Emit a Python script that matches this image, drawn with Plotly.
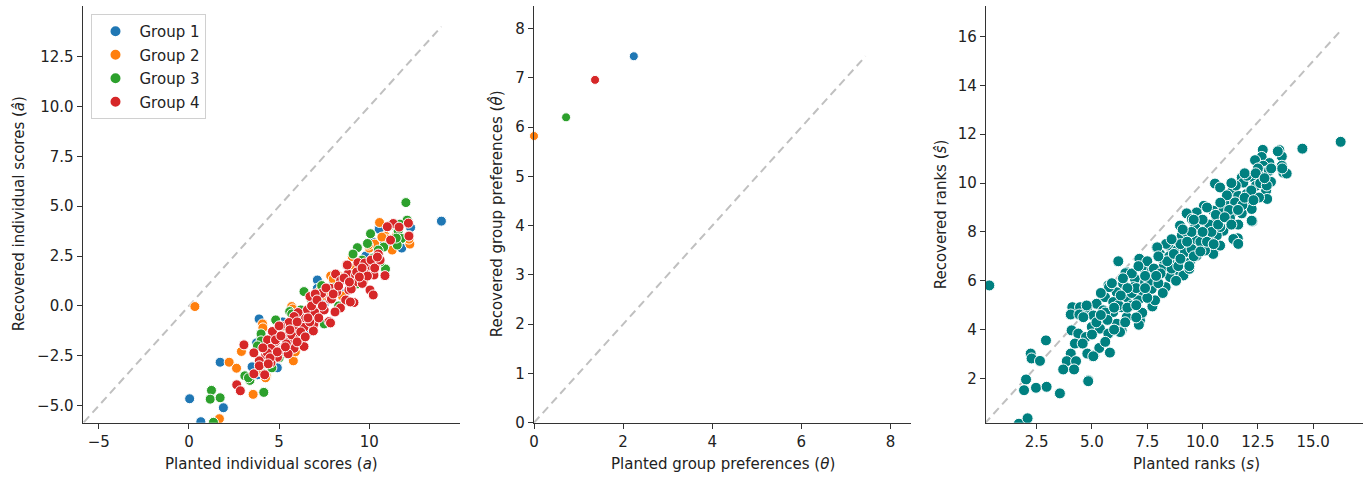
import plotly.graph_objects as go

# ---------------- Panel 1: individual scores, by group ----------------
g1_x = [0.04, 0.66, 1.91, 1.73, 3.89, 14.0, 7.12, 7.12, 10.53, 12.29, 10.55, 3.7, 3.8, 4.8, 3.75, 4.0,
        5.6, 6.2, 8.0, 9.4, 10.8, 11.8, 6.9, 5.2, 8.6, 9.8, 4.4, 6.6, 7.5, 11.2, 3.5, 4.9, 9.0, 10.2]
g1_y = [-4.65, -5.8, -5.1, -2.82, -0.65, 4.25, 1.3, 0.88, 3.88, 3.93, 3.85, -3.15, -3.45, -2.95, -1.85, -3.3,
        -2.3, -0.4, 1.1, 1.9, 3.3, 2.9, -0.2, -0.8, 0.6, 2.5, -2.0, -1.3, 0.1, 3.0, -3.05, -3.1, 1.4, 3.2]

g2_x = [0.33, 1.69, 2.23, 2.64, 2.91, 3.56, 5.79, 4.08, 5.7, 7.86, 9.06, 10.57, 12.25, 11.27, 12.2, 11.5,
        4.3, 3.9, 5.3, 6.0, 7.0, 8.0, 9.0, 10.0, 10.9, 4.6, 6.5, 8.5, 9.7, 5.9, 7.6, 10.3, 11.0, 7.3, 4.1, 8.3,
        4.25, 5.75, 9.95, 10.7]
g2_y = [-0.03, -5.65, -2.82, -3.12, -2.28, -4.43, -2.75, -0.9, -0.03, 1.5, 2.47, 4.18, 3.1, 2.8, 3.35, 3.5,
        -3.55, -3.25, -1.3, -0.95, -0.1, 1.35, 1.9, 2.9, 3.5, -2.2, -0.5, 0.5, 1.3, -2.3, 0.5, 3.1, 3.35, 0.8, -1.1, 1.5,
        -3.6, -0.15, 3.05, 3.45]

g3_x = [1.25, 1.18, 1.73, 1.36, 4.15, 3.10, 3.38, 4.81, 6.38, 5.59, 4.81, 7.36, 7.82, 12.03, 12.1, 11.6,
        11.79, 11.55, 10.07, 9.34, 9.9, 4.0, 4.0, 4.35, 5.0, 5.4, 6.8, 7.5, 8.3, 8.9, 9.6, 10.2, 10.8, 10.9,
        11.5, 6.0, 5.3, 7.0, 8.0, 9.3, 10.5, 3.8, 4.6, 6.2, 11.2, 11.7, 3.3, 4.4, 5.7, 9.1, 10.6]
g3_y = [-4.23, -4.67, -4.6, -5.83, -4.33, -3.5, -3.73, -0.73, 0.72, -0.28, -0.7, 1.02, -0.83, 5.18, 4.3, 3.75,
        3.38, 3.05, 3.62, 2.92, 3.13, -1.4, -1.75, -2.9, -2.6, -1.0, 0.3, -0.9, 0.0, 1.6, 2.3, 2.4, 2.95, 1.85,
        3.4, -1.8, -2.3, -0.05, 0.9, 1.1, 2.8, -2.0, -3.1, -0.2, 4.05, 4.1, -3.6, -2.7, -0.4, 2.6, 2.2]

g4_x = [8.74, 9.37, 9.89, 10.35, 8.13, 8.82, 9.24, 9.85, 8.41, 9.11, 9.61, 7.86, 7.36, 8.87, 10.04, 6.71,
        7.82, 8.69, 9.15, 7.21, 6.57, 6.05, 6.99, 7.77, 6.47, 5.83, 5.55, 5.09, 6.38, 6.93, 5.83, 4.63, 5.27,
        5.92, 6.38, 4.36, 4.81, 5.55, 4.54, 5.18, 5.83, 4.26, 4.91, 11.33, 12.17, 11.0, 12.21, 11.18, 10.5,
        8.78, 10.87, 10.26, 10.22, 10.5, 10.4, 10.1, 9.75, 9.0, 7.85, 6.9, 5.7, 5.0, 4.8, 4.35, 3.9, 3.6, 3.05,
        3.6, 4.2, 2.65, 2.85, 4.55, 5.2, 6.15, 6.7, 7.0, 7.9, 8.4, 8.95, 7.5, 8.2, 11.65, 12.2,
        5.4, 5.6, 6.0, 6.2, 6.6, 6.8, 7.1, 7.4, 7.6, 8.0, 8.3, 8.6, 8.9, 9.3, 9.6, 9.9, 10.1, 10.3, 10.6,
        4.5, 4.9, 5.1, 5.5, 6.0, 4.1, 3.9, 4.4, 7.2, 8.1, 10.45, 9.45, 5.35, 6.45]
g4_y = [2.05, 2.17, 2.1, 2.05, 1.6, 1.6, 1.55, 1.6, 1.27, 1.13, 1.13, 0.88, 0.63, 0.8, 0.8, 0.47,
        0.33, 0.3, 0.17, 0.05, -0.2, -0.33, -0.33, -0.78, -0.62, -0.53, -0.83, -1.0, -1.07, -0.9, -1.2, -1.28, -1.53,
        -1.45, -2.03, -1.7, -1.78, -1.78, -2.12, -2.17, -2.12, -2.45, -2.57, 4.13, 4.15, 3.97, 3.52, 3.3, 2.58,
        2.05, 1.52, 1.55, 0.55, 2.6, 2.35, 2.0, 2.15, 0.85, -0.85, -1.25, -1.45, -1.0, -1.7, -2.35, -2.75, -2.35, -1.95,
        -3.4, -3.45, -3.95, -4.25, -2.85, -2.2, -1.6, -0.8, 0.6, 0.35, -0.1, 0.2, -0.2, 0.7, 3.95, 3.5,
        -1.9, -1.2, -0.8, -1.3, -0.6, 0.0, 0.3, 0.0, 0.9, 0.6, 1.0, 1.4, 1.2, 1.7, 1.9, 1.5, 2.3, 1.9, 2.3,
        -2.6, -2.3, -1.5, -2.4, -1.8, -2.1, -3.0, -2.9, -0.6, -0.3, 2.45, 1.45, -2.05, -1.55]

# ---------------- Panel 2: group preferences ----------------
theta_planted = [2.24, 0.0, 0.72, 1.37]
theta_recovered = [7.44, 5.82, 6.2, 6.96]

# ---------------- Panel 3: ranks ----------------
s_planted = [4.11, 4.46, 4.79, 4.04, 4.43, 5.06, 2.92, 2.23, 2.27, 2.65, 4.04, 3.86, 4.28, 3.70, 4.19, 4.08,
             4.38, 4.73, 4.23, 4.58, 4.79, 5.1, 5.33, 4.83, 2.02, 1.93, 2.47, 2.95, 3.55, 1.7, 2.09, 0.36,
             6.19, 8.98, 9.28, 9.66, 10.03, 9.06, 9.88, 7.92, 8.45, 8.83, 9.28, 9.73, 8.07, 7.17, 7.62, 8.22,
             8.6, 8.98, 9.43, 8.98, 8.53, 7.85, 7.25, 6.57, 6.94, 7.4, 6.41, 6.87, 5.74, 6.12, 7.32, 7.7, 5.59,
             6.57, 7.09, 5.96, 5.21, 4.76, 6.34, 6.79, 5.51, 5.96, 7.25, 5.06, 4.61, 5.66, 6.57, 6.12, 7.17,
             4.99, 5.36, 6.34, 5.74,
             4.83, 3.55, 5.81, 5.06, 6.27, 7.27, 7.12, 7.73, 7.85, 7.14, 6.51, 5.77, 8.35, 7.95, 9.13, 9.4,
             8.33, 11.59, 12.25, 9.73, 10.52,
             16.24, 14.51, 13.47, 13.58, 12.72, 12.67, 12.37, 13.02, 12.74, 13.58, 13.65, 13.8, 12.87, 12.6,
             12.22, 11.77, 13.09, 10.56, 10.79, 11.84, 12.41, 12.87, 12.92, 12.55, 11.32, 11.61, 11.99, 11.92,
             11.01, 11.47, 12.22, 10.06, 9.73, 9.28, 10.48, 10.94, 11.39, 11.77, 12.22, 9.51, 9.96, 10.64,
             11.24, 11.61, 9.66, 10.19, 10.94, 9.28, 11.39, 11.61, 10.64, 10.26, 9.73, 9.2, 9.81, 10.48, 9.2,
             10.11, 10.79,
             7.6, 8.0, 8.6, 8.2, 7.4, 8.9, 9.5, 9.9, 10.3, 10.8, 11.2, 11.8, 12.2, 12.6, 6.8, 6.2, 5.6, 5.2,
             6.6, 7.0, 8.5, 9.0, 9.5, 10.0, 10.6, 11.1, 11.5, 12.0, 12.5, 13.0, 12.9,
             7.5, 7.8, 8.1, 8.4, 8.7, 9.0, 9.3, 9.6, 9.9, 10.2, 10.4, 10.7, 11.0, 11.3, 11.6, 11.9, 12.3,
             10.0, 10.5, 9.4, 8.8, 8.2, 7.5, 7.0, 6.6, 6.3, 6.0, 5.7, 5.4, 5.0, 5.6, 6.0, 6.5, 7.0, 7.4, 7.9,
             8.0, 8.6, 9.1, 9.6, 10.2, 10.8, 11.3, 11.9, 12.4, 12.8, 13.1, 13.4, 13.6, 6.8, 7.1, 6.4, 5.9, 5.4]
s_recovered = [4.92, 4.92, 4.9, 4.62, 4.62, 4.58, 3.56, 3.02, 2.82, 2.72, 3.02, 2.71, 2.71, 2.37, 2.37, 3.97,
               3.84, 3.7, 3.43, 3.43, 3.02, 2.95, 3.25, 1.93, 1.96, 1.52, 1.62, 1.66, 1.41, 0.15, 0.37, 5.81,
               6.8, 8.26, 7.98, 8.26, 8.12, 7.85, 7.78, 7.37, 7.44, 7.24, 7.17, 7.03, 7.1, 6.9, 6.56, 6.56,
               6.83, 6.83, 6.76, 6.22, 6.15, 6.22, 6.56, 6.35, 6.08, 5.94, 5.88, 5.74, 5.81, 5.53, 5.53, 5.67, 5.33,
               5.33, 5.2, 5.13, 5.06, 4.99, 4.92, 4.99, 4.79, 4.72, 4.72, 4.58, 4.51, 4.38, 4.51, 4.24, 4.38,
               4.11, 4.04, 3.97, 3.84,
               1.89, 1.39, 3.06, 2.91, 3.9, 4.69, 4.2, 4.95, 5.2, 6.9, 6.31, 5.74, 7.51, 7.37, 6.22, 6.49,
               5.74, 7.74, 8.43, 8.57, 7.13,
               11.69, 11.41, 11.35, 11.09, 11.36, 11.07, 10.94, 10.82, 10.71, 10.71, 10.43, 10.39, 10.47, 10.3,
               10.26, 10.23, 10.05, 9.98, 9.82, 10.02, 9.89, 9.69, 9.35, 9.41, 9.64, 9.48, 9.55, 9.21,
               9.21, 9.21, 8.94, 9.07, 8.8, 8.76, 8.87, 8.87, 8.84, 8.76, 8.46, 8.53, 8.49, 8.46,
               8.57, 8.3, 8.19, 8.12, 8.05, 7.98, 7.71, 7.51, 7.85, 7.78, 7.64, 7.51, 7.31, 7.1, 7.17,
               7.24, 7.44,
               6.0, 5.9, 6.5, 6.9, 6.2, 6.6, 7.3, 7.6, 8.3, 8.2, 8.9, 9.1, 9.7, 10.0, 5.5, 5.0, 4.7, 4.3,
               4.9, 5.7, 7.0, 7.5, 8.0, 8.5, 8.7, 9.5, 9.9, 10.3, 10.6, 10.5, 9.9,
               6.8, 6.5, 6.3, 6.8, 7.1, 6.9, 7.6, 7.0, 7.2, 7.6, 8.0, 8.3, 8.6, 8.3, 8.9, 9.4, 9.3,
               8.0, 7.5, 6.6, 6.0, 5.5, 5.3, 5.0, 5.7, 5.4, 4.9, 4.4, 4.6, 3.8, 3.5, 4.0, 4.3, 4.5, 5.7, 6.2,
               7.0, 7.7, 8.1, 8.5, 9.0, 9.2, 10.0, 10.4, 10.4, 10.2, 10.6, 11.3, 10.6, 6.3, 6.6, 6.1, 5.9, 5.5]

group_names = ["Group 1", "Group 2", "Group 3", "Group 4"]
group_colors = ["#1f77b4", "#ff7f0e", "#2ca02c", "#d62728"]
rank_color = "#008080"
diag_color = "#c0c0c0"

FONT = "DejaVu Sans"
TXT = "#222222"
FS = 15

fig = go.Figure()

# Panel 1 diagonal (from min to max of all values)
all1 = g1_x + g1_y + g2_x + g2_y + g3_x + g3_y + g4_x + g4_y
lo1, hi1 = min(all1), max(all1)
fig.add_trace(go.Scatter(x=[lo1, hi1], y=[lo1, hi1], mode="lines", xaxis="x", yaxis="y",
                         line=dict(color=diag_color, width=2, dash="8px,5px"), showlegend=False,
                         hoverinfo="skip"))
groups = [(g1_x, g1_y), (g2_x, g2_y), (g3_x, g3_y), (g4_x, g4_y)]
for i, (gx, gy) in enumerate(groups):
    fig.add_trace(go.Scatter(x=gx, y=gy, mode="markers", name=group_names[i], xaxis="x", yaxis="y",
                             legendgroup=group_names[i],
                             marker=dict(color=group_colors[i], size=10,
                                         line=dict(color="white", width=1))))

# Panel 2
all2 = theta_planted + theta_recovered
lo2, hi2 = min(all2), max(all2)
fig.add_trace(go.Scatter(x=[lo2, hi2], y=[lo2, hi2], mode="lines", xaxis="x2", yaxis="y2",
                         line=dict(color=diag_color, width=2, dash="8px,5px"), showlegend=False,
                         hoverinfo="skip"))
fig.add_trace(go.Scatter(x=theta_planted, y=theta_recovered, mode="markers", xaxis="x2", yaxis="y2",
                         showlegend=False, cliponaxis=False,
                         marker=dict(color=group_colors, size=9, line=dict(color="white", width=1))))

# Panel 3
all3 = s_planted + s_recovered
lo3, hi3 = min(all3), max(all3)
fig.add_trace(go.Scatter(x=[lo3, hi3], y=[lo3, hi3], mode="lines", xaxis="x3", yaxis="y3",
                         line=dict(color=diag_color, width=2, dash="8px,5px"), showlegend=False,
                         hoverinfo="skip"))
fig.add_trace(go.Scatter(x=s_planted, y=s_recovered, mode="markers", xaxis="x3", yaxis="y3",
                         showlegend=False,
                         marker=dict(color=rank_color, size=11, line=dict(color="white", width=1))))

W, H = 1372, 479
ydom = [(479 - 422.7) / H, (479 - 6) / H]


def ax(domain, rng, tickvals, ticktext, anchor):
    return dict(domain=domain, range=rng, tickvals=tickvals, ticktext=ticktext, anchor=anchor,
                showline=True, linecolor="#333333", linewidth=1.3, ticks="outside", ticklen=5,
                tickwidth=1.3, tickcolor="#333333", showgrid=False, zeroline=False, automargin=False,
                tickfont=dict(family=FONT, size=FS, color=TXT), fixedrange=True)


x1_ticks = [-5, 0, 5, 10]
x1_text = ["\u22125", "0", "5", "10"]
y1_ticks = [-5.0, -2.5, 0.0, 2.5, 5.0, 7.5, 10.0, 12.5]
y1_text = ["\u22125.0", "\u22122.5", "0.0", "2.5", "5.0", "7.5", "10.0", "12.5"]
x2_ticks = [0, 2, 4, 6, 8]
y2_ticks = [0, 1, 2, 3, 4, 5, 6, 7, 8]
x3_ticks = [2.5, 5.0, 7.5, 10.0, 12.5, 15.0]
x3_text = ["2.5", "5.0", "7.5", "10.0", "12.5", "15.0"]
y3_ticks = [2, 4, 6, 8, 10, 12, 14, 16]

fig.update_layout(
    width=W, height=H, margin=dict(l=0, r=0, t=0, b=0),
    paper_bgcolor="white", plot_bgcolor="white",
    font=dict(family=FONT, size=FS, color=TXT),
    xaxis=ax([82.7 / W, 460 / W], [-5.89, 15.03], x1_ticks, x1_text, "y"),
    yaxis=ax(ydom, [-5.85, 15.03], y1_ticks, y1_text, "x"),
    xaxis2=ax([534 / W, 911 / W], [0, 8.46], x2_ticks, [str(v) for v in x2_ticks], "y2"),
    yaxis2=ax(ydom, [0, 8.46], y2_ticks, [str(v) for v in y2_ticks], "x2"),
    xaxis3=ax([986 / W, 1363 / W], [0.21, 17.25], x3_ticks, x3_text, "y3"),
    yaxis3=ax(ydom, [0.19, 17.25], y3_ticks, [str(v) for v in y3_ticks], "x3"),
    showlegend=True,
    legend=dict(x=90.5 / W, y=1 - 14 / H, xanchor="left", yanchor="top",
                bordercolor="#d0d0d0", borderwidth=1, bgcolor="rgba(255,255,255,0.8)",
                font=dict(family=FONT, size=FS, color=TXT), tracegroupgap=1,
                itemwidth=38, itemsizing="constant"),
)

titles = [
    (271.5 / W, 0.031, "Planted individual scores (<i>a</i>)", 0),
    (723 / W, 0.031, "Planted group preferences (<i>θ</i>)", 0),
    (1196 / W, 0.031, "Planted ranks (<i>s</i>)", 0),
    (19 / W, (479 - 214.3) / H, "Recovered individual scores (<i>â</i>)", -90),
    (497 / W, (479 - 214.3) / H, "Recovered group preferences (<i>θ̂</i>)", -90),
    (941 / W, (479 - 214.3) / H, "Recovered ranks (<i>ŝ</i>)", -90),
]
for x, y, t, ang in titles:
    fig.add_annotation(x=x, y=y, xref="paper", yref="paper", text=t, showarrow=False,
                       textangle=ang, xanchor="center", yanchor="middle",
                       font=dict(family=FONT, size=FS, color=TXT))

fig.write_html("out.html")
